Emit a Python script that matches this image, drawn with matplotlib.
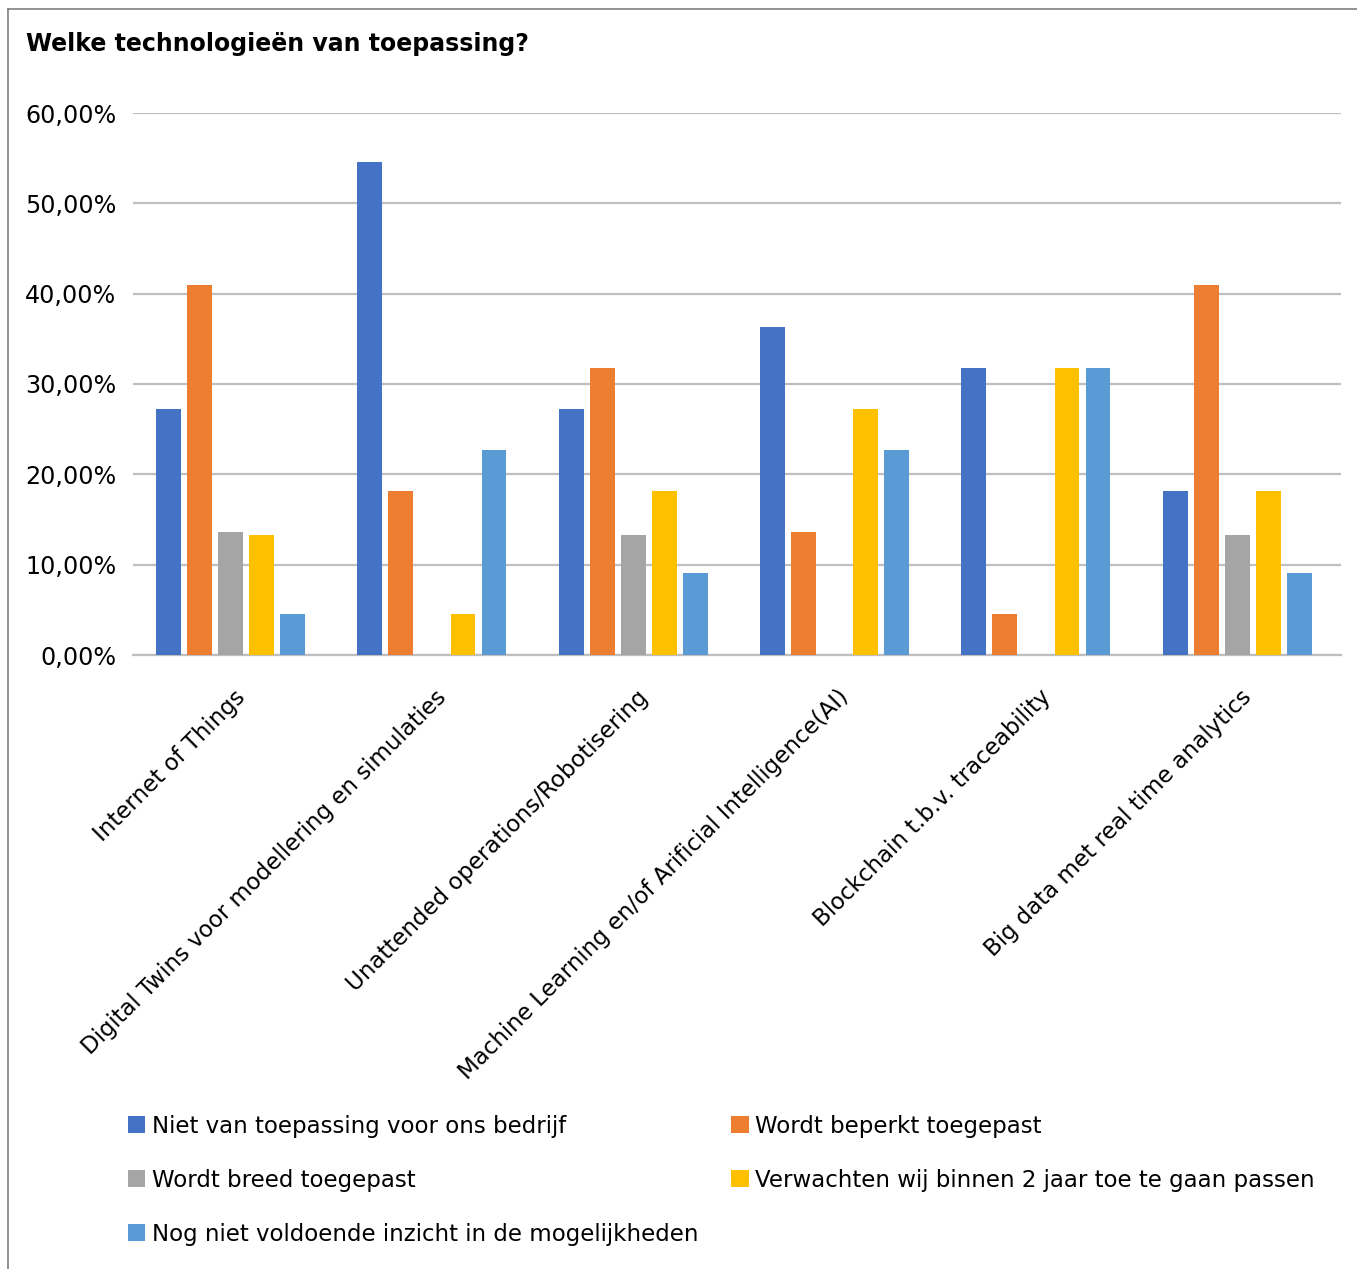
import matplotlib
matplotlib.use("Agg")
import matplotlib.pyplot as plt
from matplotlib.lines import Line2D
import numpy as np

plt.rcParams['font.family'] = ['DejaVu Sans']

categories = ["Internet of Things",
              "Digital Twins voor modellering en simulaties",
              "Unattended operations/Robotisering",
              "Machine Learning en/of Arificial Intelligence(AI)",
              "Blockchain t.b.v. traceability",
              "Big data met real time analytics"]
series_names = ["Niet van toepassing voor ons bedrijf",
                "Wordt beperkt toegepast",
                "Wordt breed toegepast",
                "Verwachten wij binnen 2 jaar toe te gaan passen",
                "Nog niet voldoende inzicht in de mogelijkheden"]
niet = [27.27, 54.55, 27.27, 36.36, 31.82, 18.18]
beperkt = [40.91, 18.18, 31.82, 13.64, 4.55, 40.91]
breed = [13.64, 0.0, 13.33, 0.0, 0.0, 13.33]
verwachten = [13.33, 4.55, 18.18, 27.27, 31.82, 18.18]
nog_niet = [4.55, 22.73, 9.09, 22.73, 31.82, 9.09]
yticks = [0, 10, 20, 30, 40, 50, 60]
ytick_labels = ["0,00%", "10,00%", "20,00%", "30,00%", "40,00%", "50,00%", "60,00%"]

colors = ["#4472C4", "#ED7D31", "#A5A5A5", "#FFC000", "#5B9BD5"]
all_series = [niet, beperkt, breed, verwachten, nog_niet]

W, H = 1357, 1269
fig = plt.figure(figsize=(W / 100, H / 100), dpi=100)
ax = fig.add_axes([133 / W, 1 - 655 / H, (1341 - 133) / W, (655 - 113) / H])

x = np.arange(len(categories))
pitch = 0.154
bw = 0.124
handles = []
for i, (vals, c, name) in enumerate(zip(all_series, colors, series_names)):
    offs = (i - 2) * pitch - 0.015
    b = ax.bar(x + offs, vals, width=bw, color=c, label=name, zorder=3)
    handles.append(b)

ax.set_xlim(-0.5, len(categories) - 0.5)
ax.set_ylim(0, 60)
ax.set_yticks(yticks)
ax.set_yticklabels(ytick_labels, fontsize=17.2)
ax.yaxis.grid(True, color="#BFBFBF", linewidth=1.6, zorder=0)
ax.set_axisbelow(True)
for s in ["top", "right", "left"]:
    ax.spines[s].set_visible(False)
ax.spines["bottom"].set_color("#BFBFBF")
ax.spines["bottom"].set_linewidth(1.6)
ax.tick_params(axis="both", length=0)
ax.tick_params(axis="y", pad=12)
ax.set_xticks(x)
ax.set_xticklabels(categories, rotation=45, ha="right", rotation_mode="anchor", fontsize=16.5)
ax.tick_params(axis="x", pad=22)

fig.text(26 / W, 1 - 44 / H, "Welke technologieën van toepassing?", fontsize=17,
         fontweight="bold", va="center", ha="left")

order = [0, 2, 4, 1, 3]
leg = fig.legend([handles[i] for i in order], [series_names[i] for i in order],
                 ncol=2, loc="upper left", bbox_to_anchor=(107 / W, 1 - 1094 / H),
                 frameon=False, fontsize=16.5, handlelength=0.75, handleheight=0.75,
                 handletextpad=0.3, labelspacing=1.35, columnspacing=1.45)

# outer border (top and left)
fig.add_artist(Line2D([8 / W, 1.0], [1 - 9 / H, 1 - 9 / H], color="#7F7F7F", linewidth=1.2))
fig.add_artist(Line2D([8 / W, 8 / W], [0, 1 - 9 / H], color="#7F7F7F", linewidth=1.2))

fig.savefig("out.png", dpi=100, facecolor="white")
